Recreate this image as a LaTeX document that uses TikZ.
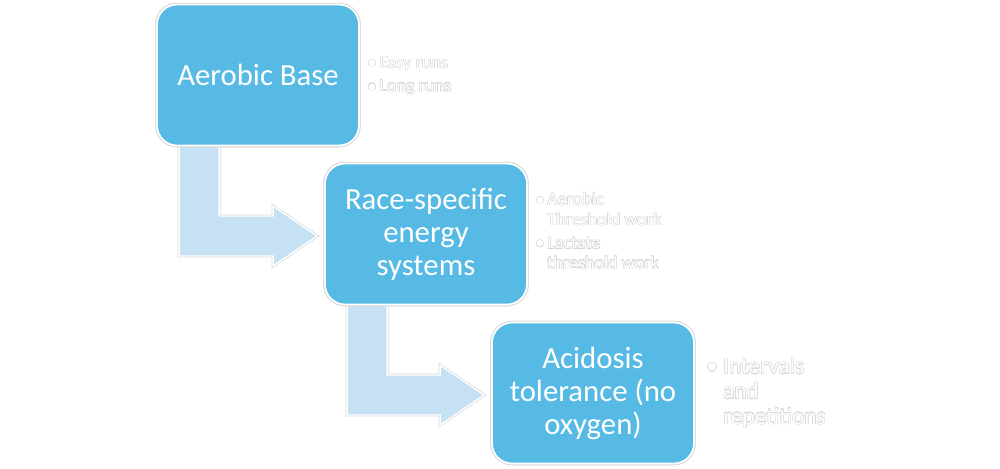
\documentclass[tikz,border=0pt]{standalone}
\usepackage{fontspec}
\setmainfont{Carlito}
\usepackage{contour}
\contourlength{0.25pt}
\usetikzlibrary{calc}
\definecolor{boxblue}{RGB}{86,186,228}
\definecolor{arrowblue}{RGB}{197,225,243}
\definecolor{rimgray}{RGB}{215,215,215}
\newcommand\halo[1]{\contour{rimgray}{#1}}
\newcommand\bul[1][6.8pt]{\makebox[#1][l]{•}}
\tikzset{stage/.style = {fill=boxblue, draw=white, line width=1pt,
                         preaction={draw=rimgray, line width=2pt},
                         rounded corners=0.4cm,
                         minimum width=4.04cm, minimum height=2.82cm,
                         text=white, align=center,
                         font=\fontsize{17.5}{18.8}\selectfont}}
\tikzset{bent/.style = {fill=arrowblue, draw=white, line width=0.8pt,
                        preaction={draw=rimgray, line width=1.6pt}}}
\tikzset{notes/.style = {text=white, align=left, inner sep=0pt, anchor=base west}}

\begin{document}
\begin{tikzpicture}[x=0.02cm, y=-0.02cm]
	\useasboundingbox (0,0) rectangle (1000,468);
	\node [stage] (base) at (258, 75) {Aerobic Base};
	\node [stage] (race) at (426, 234) {Race-specific\\energy\\systems};
	\node [stage] (acid) at (593, 393) {Acidosis\\tolerance (no\\oxygen)};
	\foreach \a/\b in {base/race, race/acid}{
		\coordinate (s) at ($(\a.south west)+(43,-3)$);
		\coordinate (t) at ($(\b.west)+(-7,2)$);
		\draw [bent] ($(s)+(-20,0)$) -- ($(s |- t)+(-20,20)$) -- ($(t)+(-44,20)$)
			-- ($(t)+(-44,30)$) -- (t) -- ($(t)+(-44,-30)$) -- ($(t)+(-44,-20)$)
			-- ($(s |- t)+(20,-20)$) -- ($(s)+(20,0)$) -- cycle;
	}
	% boxes again on top of the arrows
	\node [stage] at (base) {Aerobic Base};
	\node [stage] at (race) {Race-specific\\energy\\systems};
	\node [stage] at (acid) {Acidosis\\tolerance (no\\oxygen)};
	% base anchor sits on the last line
	\node [notes, font=\fontsize{10.3}{11.4}\selectfont] (n1) at (367, 92)
		{\halo{\bul Easy runs}\\[2pt]\halo{\bul Long runs}};
	\node [notes, font=\fontsize{10.3}{11.4}\selectfont] (n2) at (535, 269)
		{\halo{\bul Aerobic}\\\halo{\hspace{6.8pt}Threshold work}\\[2pt]%
		 \halo{\bul Lactate}\\\halo{\hspace{6.8pt}threshold work}};
	\node [notes, font=\fontsize{13.2}{14.3}\selectfont] (n3) at (706, 424)
		{\halo{\bul[9.7pt]Intervals}\\\halo{\hspace{9.7pt}and}\\\halo{\hspace{9.7pt}repetitions}};
\end{tikzpicture}
\end{document}
